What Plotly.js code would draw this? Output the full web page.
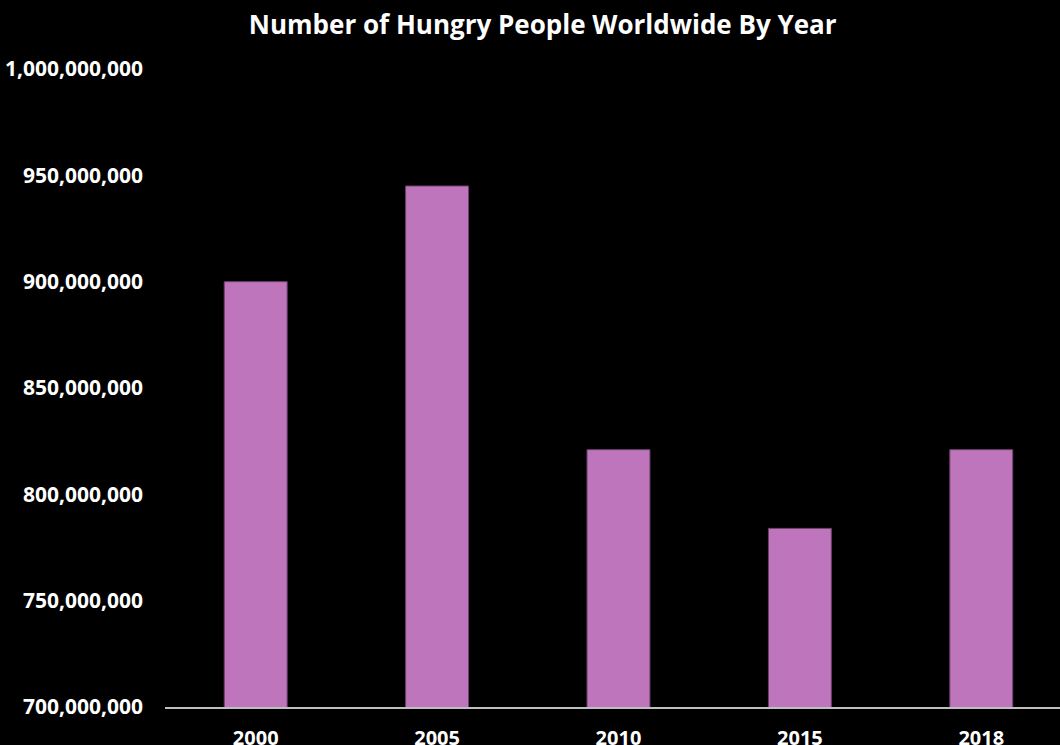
<!DOCTYPE html>
<html>
<head>
<meta charset="utf-8">
<script src="https://cdn.plot.ly/plotly-3.0.1.min.js"></script>
<style>
html,body{margin:0;padding:0;background:#000;}
#chart{width:1060px;height:745px;}
</style>
</head>
<body>
<div id="chart"></div>
<script>
var years = ['2000', '2005', '2010', '2015', '2018'];
var hungry = [900000000, 945000000, 821000000, 784000000, 821000000];
var yTicks = [700000000, 750000000, 800000000, 850000000, 900000000, 950000000, 1000000000];
var yTickText = ['700,000,000', '750,000,000', '800,000,000', '850,000,000', '900,000,000', '950,000,000', '1,000,000,000'];

var trace = {
  type: 'bar',
  x: years,
  y: hungry,
  width: 0.347,
  marker: {color: '#BE75BC', line: {color: '#6a3f69', width: 1}},
  hoverinfo: 'x+y'
};

var layout = {
  width: 1060,
  height: 745,
  paper_bgcolor: '#000',
  plot_bgcolor: '#000',
  showlegend: false,
  margin: {l: 165, r: 0, t: 69, b: 38},
  title: {
    text: '<b>Number of Hungry People Worldwide By Year</b>',
    font: {family: 'Open Sans', size: 26, color: '#fff'},
    xref: 'container', x: 0.512, xanchor: 'center',
    yref: 'container', y: 0.966, yanchor: 'middle'
  },
  xaxis: {
    type: 'category',
    range: [-0.5, 4.434],
    showgrid: false,
    zeroline: false,
    showline: true,
    linecolor: '#bfbfbf',
    linewidth: 2,
    ticks: '',
    ticklabelstandoff: 12,
    tickfont: {family: 'Open Sans', size: 20, color: '#fff', weight: 'bold'}
  },
  yaxis: {
    range: [700000000, 1000000000],
    tickvals: yTicks,
    ticktext: yTickText,
    showgrid: false,
    zeroline: false,
    showline: false,
    ticks: '',
    ticklabelstandoff: 21,
    tickfont: {family: 'Open Sans', size: 21, color: '#fff', weight: 'bold'}
  }
};

Plotly.newPlot('chart', [trace], layout, {displayModeBar: false, staticPlot: true});
</script>
</body>
</html>
